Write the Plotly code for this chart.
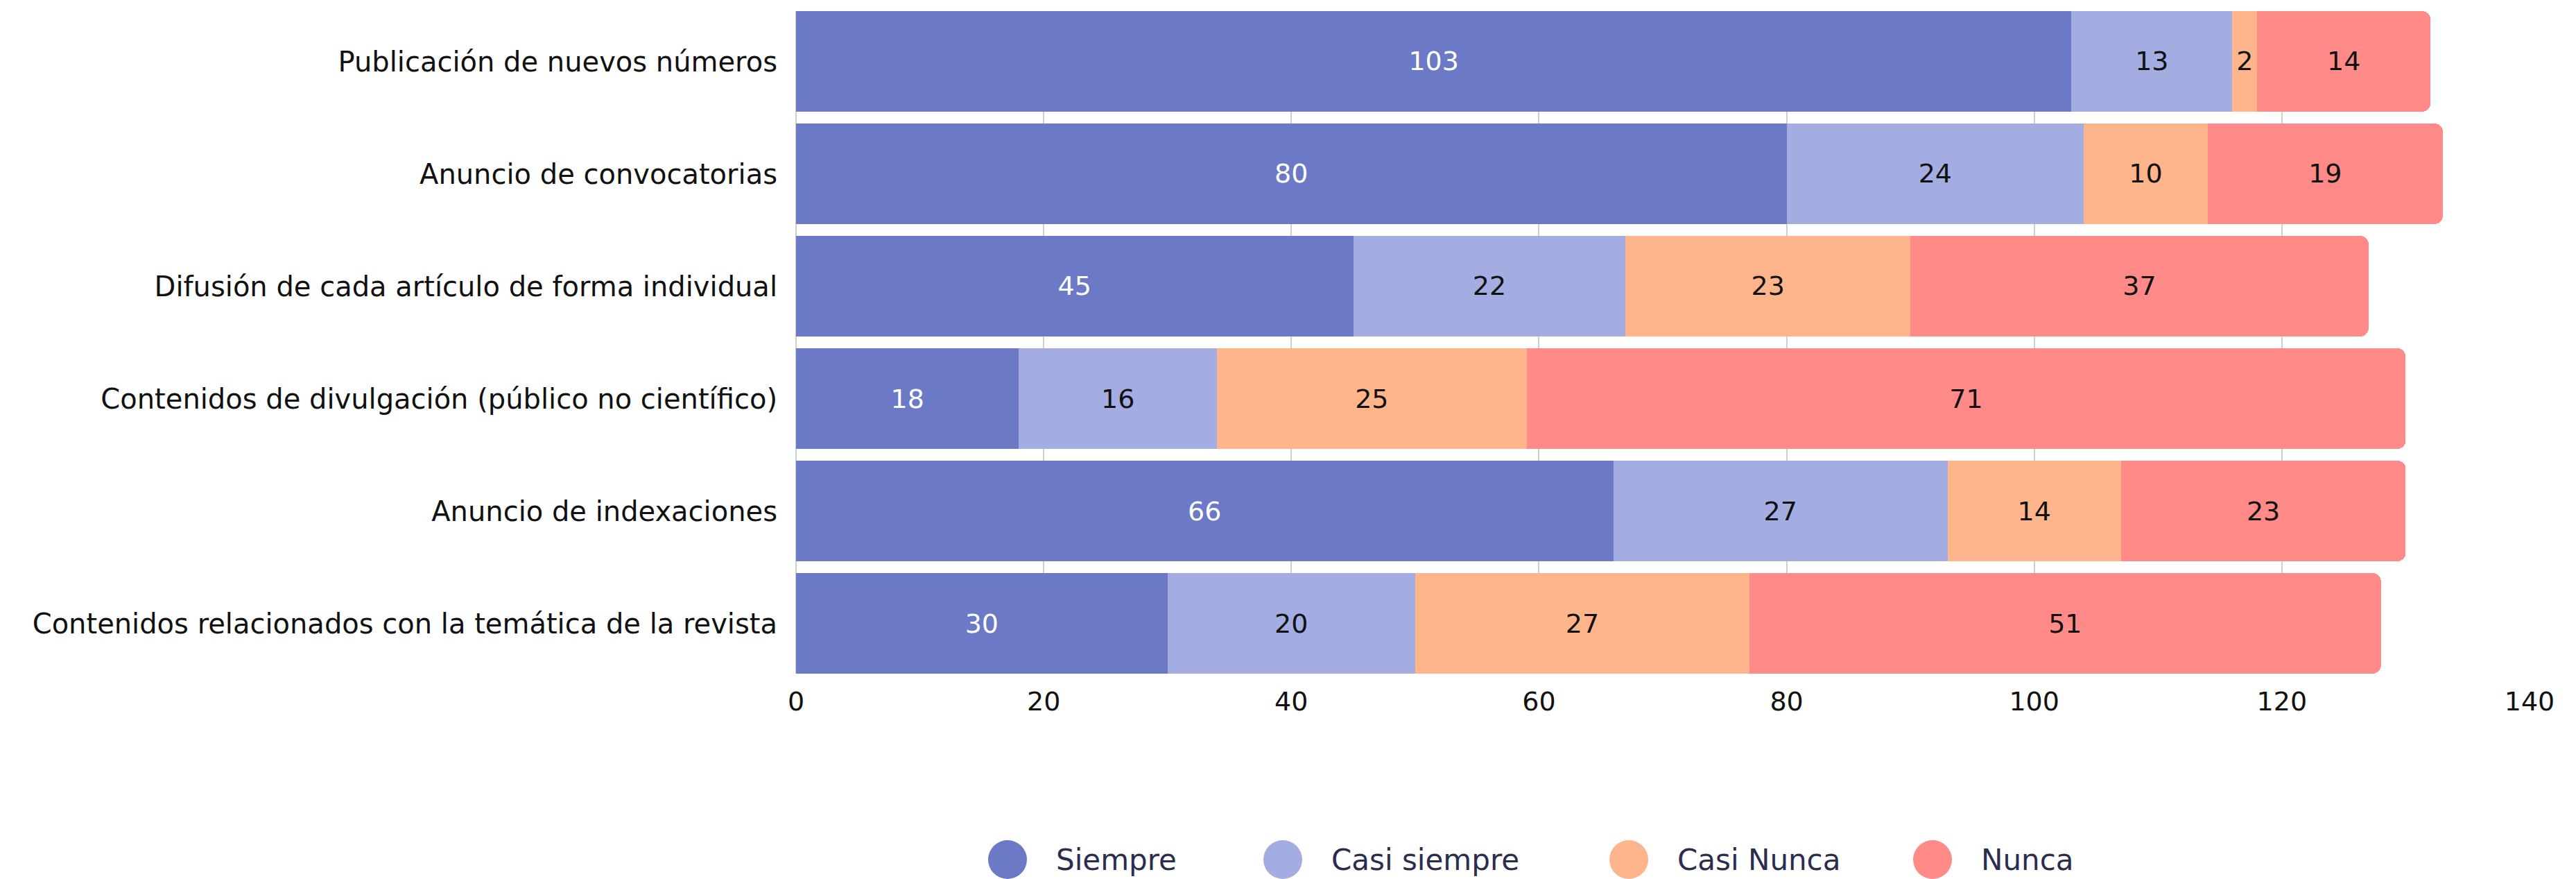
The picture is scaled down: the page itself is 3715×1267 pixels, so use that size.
import plotly.graph_objects as go

categories = [
    "Publicación de nuevos números",
    "Anuncio de convocatorias",
    "Difusión de cada artículo de forma individual",
    "Contenidos de divulgación (público no científico)",
    "Anuncio de indexaciones",
    "Contenidos relacionados con la temática de la revista",
]
series_names = ["Siempre", "Casi siempre", "Casi Nunca", "Nunca"]
siempre = [103, 80, 45, 18, 66, 30]
casi_siempre = [13, 24, 22, 16, 27, 20]
casi_nunca = [2, 10, 23, 25, 14, 27]
nunca = [14, 19, 37, 71, 23, 51]
x_ticks = [0, 20, 40, 60, 80, 100, 120, 140]

series_values = [siempre, casi_siempre, casi_nunca, nunca]
colors = ["#6b79c6", "#a3ade1", "#ffb58b", "#ff8a87"]
text_colors = ["#ffffff", "#111111", "#111111", "#111111"]

FONT = "DejaVu Sans"
FS = 40
W, H = 3715, 1267
L, R, T, B = 1148, 67, 16, 296
BARGAP = 0.105

fig = go.Figure()
for name, vals, col, tc in zip(series_names, series_values, colors, text_colors):
    fig.add_trace(go.Bar(
        y=categories, x=vals, orientation="h", name=name,
        marker=dict(color=col, line=dict(width=0)),
        text=[str(v) for v in vals], textposition="inside",
        insidetextanchor="middle",
        textfont=dict(color=tc, size=38, family=FONT),
        showlegend=False, hoverinfo="x+y+name",
    ))

n = len(categories)
fig.update_layout(
    width=W, height=H,
    margin=dict(l=L, r=R, t=T, b=B, pad=0),
    barmode="stack", bargap=BARGAP, barcornerradius=12,
    plot_bgcolor="white", paper_bgcolor="white",
    uniformtext=dict(mode="show", minsize=38),
    font=dict(family=FONT, size=FS, color="#111111"),
    xaxis=dict(range=[0, 140], tickvals=x_ticks, showgrid=True,
               gridcolor="#cfcfcf", gridwidth=2, zeroline=True, zerolinecolor="#cfcfcf",
               zerolinewidth=2, showline=False, ticks="outside", ticklen=6,
               tickcolor="rgba(0,0,0,0)",
               tickfont=dict(size=38, color="#111111", family=FONT)),
    yaxis=dict(type="category", categoryorder="array", categoryarray=categories,
               range=[n - 0.5 - BARGAP / 2, -0.5 + BARGAP / 2],
               showgrid=False, zeroline=False, showline=False, ticks="",
               ticklabelstandoff=26,
               tickfont=dict(size=FS, color="#111111", family=FONT)),
)

# custom legend with large circle symbols
plot_w = W - L - R
plot_h = H - T - B
def px_to_paper_x(px):
    return (px - L) / plot_w
def py_to_paper_y(py):
    return (H - B - py) / plot_h

legend_centers_px = [1453, 1850, 2349, 2787]
legend_y_px = 1239
for name, col, cx in zip(series_names, colors, legend_centers_px):
    xa = px_to_paper_x(cx)
    ya = py_to_paper_y(legend_y_px)
    fig.add_shape(type="circle", xref="paper", yref="paper",
                  xsizemode="pixel", ysizemode="pixel",
                  xanchor=xa, yanchor=ya, x0=-28, x1=28, y0=-28, y1=28,
                  fillcolor=col, line=dict(width=0))
    fig.add_annotation(x=px_to_paper_x(cx + 68), y=ya, xref="paper", yref="paper",
                       text=name, showarrow=False, xanchor="left", yanchor="middle",
                       font=dict(family=FONT, size=42, color="#2b2d4f"))

fig.write_html("out.html")
